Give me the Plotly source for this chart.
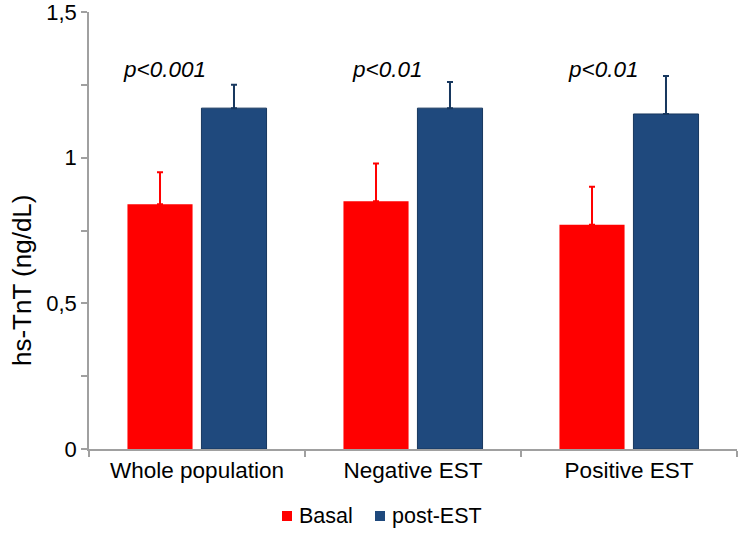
import plotly.graph_objects as go

categories = ["Whole population", "Negative EST", "Positive EST"]
basal = [0.84, 0.85, 0.77]
basal_err = [0.11, 0.13, 0.13]
post = [1.17, 1.17, 1.15]
post_err = [0.08, 0.09, 0.13]
p_labels = ["p<0.001", "p<0.01", "p<0.01"]
y_tickvals = [0, 0.25, 0.5, 0.75, 1, 1.25, 1.5]
y_ticktext = ["0", "", "0,5", "", "1", "", "1,5"]
y_title = "hs-TnT (ng/dL)"
series_names = ["Basal", "post-EST"]
series_colors = ["#FF0000", "#1F497D"]

FONT = "Liberation Sans, Arial, sans-serif"
W, H = 740, 533
ML, MR, MT, MB = 89, 3, 12, 84
PW, PH = W - ML - MR, H - MT - MB


def px_x(px):
    return (px - ML) / PW


def px_y(py):
    return (H - MB - py) / PH


fig = go.Figure()
fig.add_trace(go.Bar(
    name=series_names[0], x=categories, y=basal, showlegend=False,
    marker=dict(color=series_colors[0], line=dict(width=0)),
    error_y=dict(type="data", symmetric=False, array=basal_err,
                 arrayminus=[0] * len(basal_err), color="#FF0000",
                 thickness=2, width=3),
))
fig.add_trace(go.Bar(
    name=series_names[1], x=categories, y=post, showlegend=False,
    marker=dict(color=series_colors[1], line=dict(width=1, color="#17375E")),
    error_y=dict(type="data", symmetric=False, array=post_err,
                 arrayminus=[0] * len(post_err), color="#17375E",
                 thickness=2, width=3),
))

for c, t in zip(categories, p_labels):
    fig.add_annotation(x=c, y=1.304, text=f"<i>{t}</i>", showarrow=False,
                       xanchor="right", xshift=11,
                       font=dict(size=22.5, color="#000000", family=FONT))

# y-axis title as rotated text (sits below the plot-area centre in the reference)
fig.add_annotation(xref="paper", yref="paper", x=px_x(22), y=px_y(281),
                   text=y_title, textangle=-90, showarrow=False,
                   xanchor="center", yanchor="middle",
                   font=dict(size=26, color="#000000", family=FONT))

# legend drawn as squares + text, below the axis
legend_sq_left = [282, 375]
legend_text_left = [297, 390]
for name, col, sx, tx in zip(series_names, series_colors, legend_sq_left, legend_text_left):
    fig.add_shape(type="rect", xref="paper", yref="paper",
                  x0=px_x(sx), x1=px_x(sx + 10), y0=px_y(521), y1=px_y(511),
                  fillcolor=col, line=dict(width=0))
    fig.add_annotation(xref="paper", yref="paper", x=px_x(tx), y=px_y(516),
                       text=name, showarrow=False, xanchor="left", yanchor="middle",
                       font=dict(size=21.5, color="#000000", family=FONT))

fig.update_layout(
    width=W, height=H,
    margin=dict(l=ML, r=MR, t=MT, b=MB, autoexpand=False),
    paper_bgcolor="white", plot_bgcolor="white",
    barmode="group", bargap=0.315, bargroupgap=0.12,
    font=dict(family=FONT, color="#000000"),
    showlegend=False,
    xaxis=dict(
        automargin=False,
        showline=True, linecolor="#A0A0A0", linewidth=1.5,
        ticks="outside", tickson="boundaries", ticklen=6,
        tickcolor="#A0A0A0", tickwidth=1.5,
        tickfont=dict(size=22.5, family=FONT, color="#000000"),
        showgrid=False, zeroline=False,
    ),
    yaxis=dict(
        automargin=False,
        range=[0, 1.5], tickvals=y_tickvals, ticktext=y_ticktext,
        ticklabeloverflow="allow",
        showline=True, linecolor="#A0A0A0", linewidth=1.5,
        ticks="outside", ticklen=6, tickcolor="#A0A0A0", tickwidth=1.5,
        tickfont=dict(size=22, family=FONT, color="#000000"),
        showgrid=False, zeroline=False,
    ),
)

fig.write_html("out.html", config={"displayModeBar": False},
               post_script="document.body.style.margin='0';")
